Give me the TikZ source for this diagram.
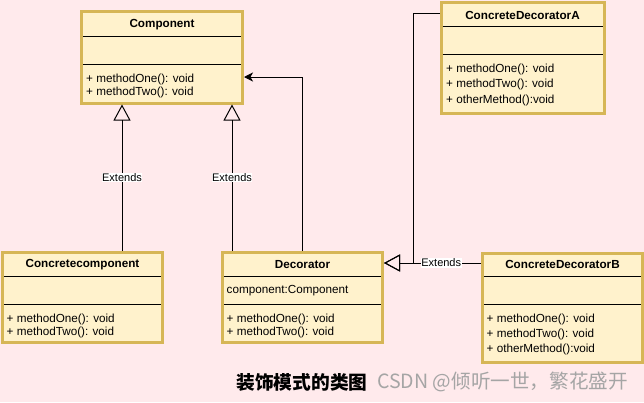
\documentclass[tikz,border=0pt]{standalone}
\usepackage{fontspec}
\setmainfont{Liberation Sans}
\newfontfamily\cjk{Noto Sans CJK SC}
\usetikzlibrary{arrows.meta,calc}
\definecolor{bgpink}{RGB}{255,234,236}
\definecolor{umlfill}{HTML}{FFF2CC}
\definecolor{umlborder}{HTML}{D6B656}
\definecolor{wmgray}{RGB}{165,165,165}
\begin{document}
\begin{tikzpicture}[x=1pt,y=-1pt,
  classbox/.style={rectangle,draw=umlborder,fill=umlfill,line width=3pt,inner sep=0pt},
  sepline/.style={draw=black,line width=1pt},
  ctitle/.style={font=\bfseries\fontsize{11.7}{14}\selectfont,inner sep=0pt},
  member/.style={font=\fontsize{11.7}{14}\selectfont,anchor=west,inner sep=0pt},
  ext/.style={draw=black,line width=1pt,-{Triangle[open,length=16pt,width=17pt]}},
  assoc/.style={draw=black,line width=1pt,-{Stealth[length=9pt,width=9pt,inset=2.5pt]}},
  plainline/.style={draw=black,line width=1pt},
  lbl/.style={fill=white,inner sep=0.6pt,font=\fontsize{11}{13}\selectfont}]
\fill[bgpink] (0,0) rectangle (644,402);
\useasboundingbox (0,0) rectangle (644,402);

% class boxes
\node[classbox,minimum width=161pt,minimum height=92pt] (comp) at (162,57) {};
\node[classbox,minimum width=163pt,minimum height=111pt] (cda) at (522.5,57.5) {};
\node[classbox,minimum width=160pt,minimum height=90pt] (cc) at (82.5,297.5) {};
\node[classbox,minimum width=160pt,minimum height=90pt] (dec) at (302.5,297.5) {};
\node[classbox,minimum width=160pt,minimum height=109pt] (cdb) at (562.5,308) {};

% separators
\draw[sepline] ([xshift=3pt]comp.west |- 0,36) -- ([xshift=-3pt]comp.east |- 0,36);
\draw[sepline] ([xshift=3pt]comp.west |- 0,64) -- ([xshift=-3pt]comp.east |- 0,64);
\draw[sepline] ([xshift=3pt]cda.west |- 0,26) -- ([xshift=-3pt]cda.east |- 0,26);
\draw[sepline] ([xshift=3pt]cda.west |- 0,54) -- ([xshift=-3pt]cda.east |- 0,54);
\draw[sepline] ([xshift=3pt]cc.west |- 0,276) -- ([xshift=-3pt]cc.east |- 0,276);
\draw[sepline] ([xshift=3pt]cc.west |- 0,304) -- ([xshift=-3pt]cc.east |- 0,304);
\draw[sepline] ([xshift=3pt]dec.west |- 0,276) -- ([xshift=-3pt]dec.east |- 0,276);
\draw[sepline] ([xshift=3pt]dec.west |- 0,304) -- ([xshift=-3pt]dec.east |- 0,304);
\draw[sepline] ([xshift=3pt]cdb.west |- 0,276) -- ([xshift=-3pt]cdb.east |- 0,276);
\draw[sepline] ([xshift=3pt]cdb.west |- 0,304) -- ([xshift=-3pt]cdb.east |- 0,304);

% titles
\node[ctitle] (compT) at (comp.north |- 0,24.5) {Component};
\node[ctitle] (cdaT) at (cda.north |- 0,15) {ConcreteDecoratorA};
\node[ctitle] (ccT) at (cc.north |- 0,264.5) {Concretecomponent};
\node[ctitle] (decT) at (dec.north |- 0,264.5) {Decorator};
\node[ctitle] (cdbT) at (cdb.north |- 0,264.5) {ConcreteDecoratorB};

% members
\node[member] (compM1) at (86,79) {+ methodOne(): void};
\node[member] (compM2) at (86,92.5) {+ methodTwo(): void};
\node[member] (cdaM1) at (446,69) {+ methodOne(): void};
\node[member] (cdaM2) at (446,84) {+ methodTwo(): void};
\node[member] (cdaM3) at (446,100) {+ otherMethod():void};
\node[member] (ccM1) at (6.5,319) {+ methodOne(): void};
\node[member] (ccM2) at (6.5,332.5) {+ methodTwo(): void};
\node[member] (decA) at (226.5,291) {component:Component};
\node[member] (decM1) at (226.5,319) {+ methodOne(): void};
\node[member] (decM2) at (226.5,332.5) {+ methodTwo(): void};
\node[member] (cdbM1) at (486.5,319) {+ methodOne(): void};
\node[member] (cdbM2) at (486.5,334) {+ methodTwo(): void};
\node[member] (cdbM3) at (486.5,349.5) {+ otherMethod():void};

% connectors
\draw[ext] ([xshift=39.5pt]cc.north) -- node[lbl] {Extends} ([xshift=39.5pt]cc.north |- comp.south);
\draw[ext] ([xshift=-70.5pt]dec.north) -- node[lbl] {Extends} ([xshift=-70.5pt]dec.north |- comp.south);
\draw[assoc] (dec.north) |- ([yshift=-20pt]comp.east);
\coordinate (join) at (413,263);
\draw[plainline] ([yshift=44.5pt]cda.west) -| (join);
\draw[ext] (join) -- (join -| dec.east);
\draw[ext] ([yshift=45pt]cdb.west) -- node[lbl,pos=0.41] {Extends} ([yshift=45pt]cdb.west -| dec.east);

% caption
\node[font=\cjk\bfseries\fontsize{18.7}{21}\selectfont,inner sep=0pt] (cap) at (302,382) {装饰模式的类图};
\node[font=\cjk\fontsize{19.6}{21}\selectfont,text=wmgray,anchor=west,inner sep=0pt] (wmark) at (377,382) {CSDN @倾听一世，繁花盛开};
\end{tikzpicture}
\end{document}
